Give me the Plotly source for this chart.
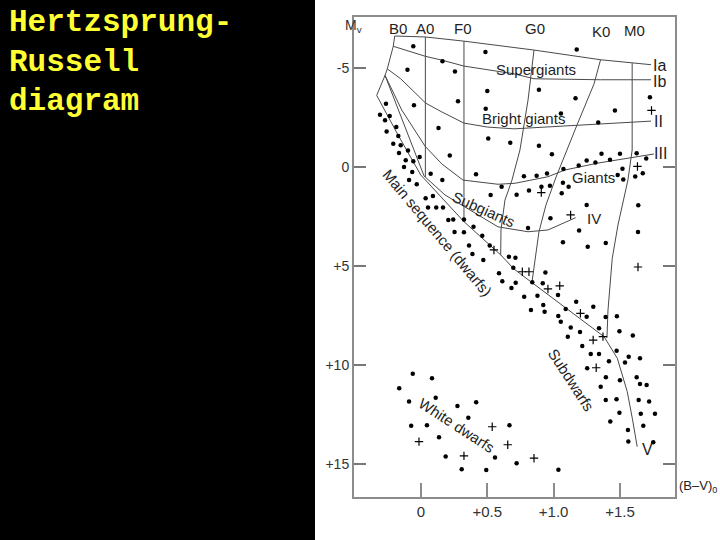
import plotly.graph_objects as go

# ---------------- data (B-V colour index, absolute magnitude Mv) ----------------
# luminosity-class curves
left_bv = [-0.198, -0.209, -0.254, -0.271, -0.334]
left_mv = [-6.62, -6.10, -4.96, -4.63, -3.62]

ia_bv = [-0.198, 0.035, 0.324, 0.701, 0.852, 1.354, 1.590, 1.734]
ia_mv = [-6.62, -6.57, -6.36, -6.06, -5.91, -5.42, -5.25, -5.17]

ib_bv = [-0.209, 0.035, 0.158, 0.324, 0.701, 0.852, 1.354, 1.590, 1.734]
ib_mv = [-6.10, -5.59, -5.40, -5.10, -4.71, -4.46, -4.41, -4.41, -4.41]

ii_bv = [-0.254, -0.153, 0.035, 0.158, 0.324, 0.500, 0.701, 1.176, 1.581, 1.734]
ii_mv = [-4.96, -4.46, -3.23, -2.78, -2.22, -2.02, -1.93, -2.11, -2.27, -2.32]

iii_bv = [-0.271, -0.145, 0.030, 0.158, 0.317, 0.580, 0.709, 0.957, 1.085, 1.334, 1.756]
iii_mv = [-4.63, -2.88, -1.06, -0.15, 0.66, 0.87, 0.82, 0.49, 0.15, -0.20, -0.66]

iv_bv = [-0.271, -0.128, 0.023, 0.181, 0.332, 0.580, 0.807, 0.957, 1.166]
iv_mv = [-4.63, -2.12, 0.45, 1.41, 2.02, 3.02, 3.27, 3.18, 2.56]

v_bv = [-0.334, -0.173, -0.002, 0.324, 0.601, 0.701, 0.827, 1.091, 1.380, 1.480, 1.555, 1.593, 1.630]
v_mv = [-3.62, -1.62, 0.40, 2.76, 4.44, 5.15, 5.79, 7.14, 8.57, 9.66, 11.35, 12.69, 14.13]

# spectral-type boundaries
a0_bv = [0.033, 0.033]
a0_mv = [-6.57, 0.50]
f0_bv = [0.324, 0.324]
f0_mv = [-6.36, 2.76]
g0_bv = [0.852, 0.807, 0.746, 0.686, 0.633, 0.603, 0.601]
g0_mv = [-5.91, -3.38, -0.86, 0.66, 1.67, 3.18, 4.44]
k0_bv = [1.354, 1.304, 1.176, 1.018, 0.942, 0.889, 0.837]
k0_mv = [-5.42, -4.19, -2.12, 0.51, 1.92, 3.28, 5.81]
m0_bv = [1.592, 1.592, 1.560, 1.485, 1.442, 1.410, 1.402]
m0_mv = [-5.25, -0.86, 0.66, 2.93, 4.61, 7.22, 8.63]

# stars (filled dots)
sg_bv = [-0.058, 0.486, -0.102, 0.162, 0.256, 0.500, -0.053, 0.279, 0.488, 0.132, 0.507, 0.673,
         0.217, 0.415, 1.174, 0.889, 1.165, 1.462, 1.726, 1.336, 1.055, 0.889, 0.987]
sg_mv = [-6.10, -5.81, -4.92, -5.35, -4.83, -3.84, -3.12, -3.32, -2.94, -1.97, -1.44, -1.23,
         -0.58, 0.37, -5.94, -3.90, -3.48, -2.85, -3.52, -2.25, -2.71, -1.08, -0.64]

ms_bv = [-0.264, -0.309, -0.236, -0.271, -0.186, -0.259, -0.171, -0.209, -0.153, -0.166, -0.098,
         -0.115, -0.058, -0.010, -0.128, -0.066, 0.073, 0.161, -0.090, -0.032, 0.035, 0.090,
         0.053, 0.115, 0.166, 0.206, 0.243, 0.324, 0.253, 0.324, 0.396, 0.462, 0.362, 0.388,
         0.518, 0.470, 0.663, 0.588, 0.613, 0.682, 0.712, 0.696, 0.714, 0.778, 0.839, 0.918,
         0.938, 0.878, 1.033, 1.170, 1.299, 0.922, 0.829, 0.932, 1.091, 1.249, 1.035, 1.054,
         1.392, 1.477, 1.129, 1.199, 1.342, 1.496, 1.597, 1.107, 1.216, 1.280, 1.342, 1.475,
         1.566, 1.651, 1.417, 1.538, 1.253, 1.394, 1.500, 1.626, 1.651, 1.701, 1.355, 1.393,
         1.474, 1.641, 1.720, 1.496, 1.657, 1.764, 1.427, 1.676, 1.560, 1.563, 1.751]
ms_mv = [-3.20, -2.64, -2.58, -2.36, -2.02, -1.80, -1.57, -1.18, -1.10, -0.71, -0.84,
         -0.34, -0.29, -0.51, 0.00, 0.25, 0.34, 0.65, 0.66, 0.87, 1.58, 1.46,
         2.04, 2.04, 2.04, 2.68, 2.65, 2.65, 3.28, 3.30, 3.02, 3.47, 3.97, 4.39,
         3.97, 4.70, 4.53, 5.37, 5.77, 6.11, 4.58, 5.09, 5.84, 6.55, 5.82, 5.87,
         5.33, 6.50, 6.46, 6.80, 7.06, 6.97, 7.22, 7.31, 7.17, 7.56, 7.53, 7.81,
         7.58, 7.54, 8.11, 8.33, 8.15, 8.30, 8.51, 8.57, 9.04, 9.45, 9.44, 9.28,
         9.58, 9.66, 9.81, 9.87, 10.17, 10.62, 10.77, 10.62, 10.96, 11.01, 11.10, 11.77,
         11.73, 11.77, 11.85, 12.41, 12.47, 12.47, 12.86, 13.07, 13.28, 13.87, 13.91]

gi_bv = [0.776, 0.872, 0.950, 1.074, 1.189, 1.249, 1.315, 1.425, 1.361, 1.500, 1.626, 1.698,
         1.519, 1.672, 1.615, 1.483, 1.525, 0.972, 1.070, 1.113, 0.908, 0.814, 0.721, 1.061,
         0.608, 0.525, 1.249, 1.638, 0.976, 0.807, 1.192, 1.636, 1.070, 1.257, 1.393]
gi_mv = [0.47, 0.44, 0.33, 0.10, -0.08, -0.33, -0.23, -0.37, -0.67, -0.67, -0.70, -0.43,
         0.09, 0.31, 0.48, 0.40, 0.63, 0.95, 0.80, 0.99, 1.00, 1.18, 1.40, 1.33,
         0.99, 1.41, 1.92, 1.93, 2.59, 3.08, 3.21, 3.28, 3.80, 4.03, 3.84]

wd_bv = [-0.062, 0.083, -0.164, -0.090, 0.111, 0.275, 0.416, 0.357, -0.074, 0.045, 0.136,
         0.667, 0.558, 0.186, 0.307, 0.492, 0.721, 1.036]
wd_mv = [10.44, 10.67, 11.18, 11.85, 11.66, 12.07, 11.88, 12.66, 13.07, 13.04, 13.65,
         13.04, 14.68, 14.63, 15.27, 15.31, 14.96, 15.29]

# stars (plus signs)
plus_bv = [1.738, 1.298, 1.372, 1.321, 1.202, 0.957, 1.046, 0.764, 0.814, 0.550,
           1.632, 0.907, 1.128, 1.636, -0.015, 0.537, 0.654, 0.324, 0.852]
plus_mv = [-2.86, 8.74, 8.57, 10.14, 7.39, 6.16, 6.00, 5.29, 5.29, 4.19,
           -0.03, 1.29, 2.42, 5.05, 13.87, 13.12, 14.03, 14.59, 14.71]

# axis ticks and labels
x_ticks = [0, 0.5, 1.0, 1.5]
x_ticktext = ["0", "+0.5", "+1.0", "+1.5"]
y_ticks = [-5, 0, 5, 10, 15]
y_ticktext = ["-5", "0", "+5", "+10", "+15"]
y_right_ticks = [0, 5, 10, 15]

spec_labels = ["B0", "A0", "F0", "G0", "K0", "M0"]
spec_bv = [-0.173, 0.030, 0.317, 0.859, 1.357, 1.613]
spec_mv = [-7.02, -7.02, -7.02, -7.02, -6.87, -6.92]

class_labels = ["Ia", "Ib", "II", "III", "V"]
class_bv = [1.800, 1.800, 1.794, 1.809, 1.704]
class_mv = [-5.15, -4.34, -2.32, -0.66, 14.29]

region_labels = ["Supergiants", "Bright giants", "Giants", "Subgiants", "IV",
                 "Main sequence (dwarfs)", "Subdwarfs", "White dwarfs"]
region_bv = [0.867, 0.776, 1.297, 0.475, 1.304, 0.121, 1.138, 0.271]
region_mv = [-4.95, -2.47, 0.51, 2.17, 2.58, 3.33, 10.76, 13.08]
region_angle = [0, 0, 0, 24, 0, 50, 57, 33]

# ---------------- figure ----------------
LINE = dict(color="#4a4a4a", width=1)
fig = go.Figure()

curves = [(left_bv, left_mv), (ia_bv, ia_mv), (ib_bv, ib_mv), (ii_bv, ii_mv),
          (iii_bv, iii_mv), (iv_bv, iv_mv), (v_bv, v_mv),
          (a0_bv, a0_mv), (f0_bv, f0_mv), (g0_bv, g0_mv), (k0_bv, k0_mv), (m0_bv, m0_mv)]
for bx, my in curves:
    fig.add_trace(go.Scatter(x=bx, y=my, mode="lines", line=LINE,
                             hoverinfo="skip", showlegend=False))

for bx, my in [(sg_bv, sg_mv), (ms_bv, ms_mv), (gi_bv, gi_mv), (wd_bv, wd_mv)]:
    fig.add_trace(go.Scatter(x=bx, y=my, mode="markers",
                             marker=dict(symbol="circle", size=4.5, color="black"),
                             showlegend=False))

fig.add_trace(go.Scatter(x=plus_bv, y=plus_mv, mode="markers",
                         marker=dict(symbol="cross-thin", size=6,
                                     line=dict(color="black", width=1.2)),
                         showlegend=False))

# trace that anchors the right-hand tick axis
fig.add_trace(go.Scatter(x=[None], y=[None], yaxis="y2", showlegend=False, hoverinfo="skip"))

TXT = dict(family="Liberation Sans, Arial, sans-serif", size=15, color="#1e1e1e")
for t, bx, my in zip(spec_labels, spec_bv, spec_mv):
    fig.add_annotation(x=bx, y=my, text=t, showarrow=False, font=TXT)
for t, bx, my in zip(class_labels, class_bv, class_mv):
    fig.add_annotation(x=bx, y=my, text=t, showarrow=False,
                       font=dict(family="Liberation Sans, Arial, sans-serif", size=16, color="#1e1e1e"))
for t, bx, my, a in zip(region_labels, region_bv, region_mv, region_angle):
    fig.add_annotation(x=bx, y=my, text=t, showarrow=False, textangle=a, font=TXT)

# axis titles
fig.add_annotation(xref="paper", yref="paper", x=-0.034, y=1.004, text="M<sub>v</sub>",
                   showarrow=False, font=dict(family="Liberation Sans, Arial", size=14, color="#333"))
fig.add_annotation(xref="paper", yref="paper", x=1.007, y=0.0, xanchor="left",
                   text="(B\u2013V)<sub>0</sub>", showarrow=False,
                   font=dict(family="Liberation Sans, Arial", size=13, color="#222"))

# slide title
TITLE = dict(family="Liberation Mono, Courier New, monospace", size=31, color="#ffff33", weight="bold")
for i, line in enumerate(["Hertzsprung-", "Russell", "diagram"]):
    fig.add_annotation(xref="paper", yref="paper", x=-1.082, xanchor="left",
                       y=1.0 - (23 + 39 * i - 17) / 480.0, yanchor="middle",
                       text=line, showarrow=False, font=TITLE)

# white panel behind the diagram
fig.add_shape(type="rect", xref="paper", yref="paper", x0=-0.1215, x1=1.2, y0=-0.2, y1=1.1,
              fillcolor="white", line=dict(width=0), layer="below")

fig.update_layout(
    width=720, height=540,
    margin=dict(l=354, r=45, t=17, b=43),
    paper_bgcolor="black", plot_bgcolor="white",
    xaxis=dict(range=[-0.505, 1.915], showgrid=False, zeroline=False,
               showline=True, linecolor="#8c8c8c", linewidth=2, mirror=True,
               ticks="inside", ticklen=14, tickwidth=2, tickcolor="#8c8c8c",
               tickvals=x_ticks, ticktext=x_ticktext,
               tickfont=dict(family="Liberation Sans, Arial", size=15, color="#333")),
    yaxis=dict(range=[16.67, -7.58], showgrid=False, zeroline=False,
               showline=True, linecolor="#8c8c8c", linewidth=2, mirror=True,
               ticks="inside", ticklen=12, tickwidth=1.5, tickcolor="#777",
               tickvals=y_ticks, ticktext=y_ticktext,
               tickfont=dict(family="Liberation Sans, Arial", size=14, color="#333")),
    yaxis2=dict(range=[16.67, -7.58], overlaying="y", side="right", showgrid=False,
                zeroline=False, showline=False, ticks="inside", ticklen=12, tickwidth=1.5,
                tickcolor="#777", tickvals=y_right_ticks, showticklabels=False),
)

fig.write_html("out.html", config={"displayModeBar": False},
               post_script="document.body.style.margin='0';document.body.style.background='black';")
